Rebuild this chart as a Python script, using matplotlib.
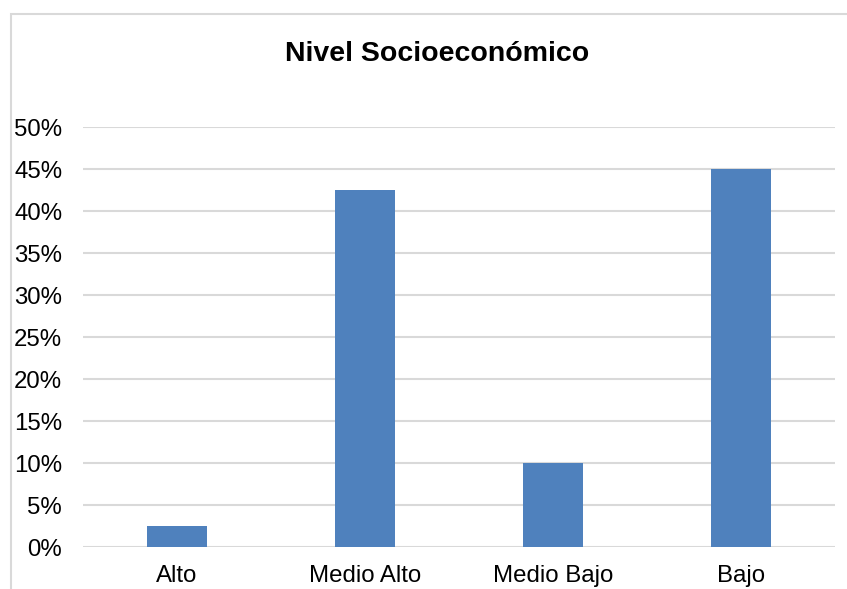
import matplotlib.pyplot as plt
from matplotlib.patches import Rectangle
from matplotlib.ticker import FuncFormatter

categories = ["Alto", "Medio Alto", "Medio Bajo", "Bajo"]
values = [2.5, 42.5, 10.0, 45.0]
yticks = [0, 5, 10, 15, 20, 25, 30, 35, 40, 45, 50]

plt.rcParams['font.family'] = ['Liberation Sans', 'DejaVu Sans']

W, H = 847, 589
fig = plt.figure(figsize=(W / 100, H / 100), dpi=100)

# chart frame (only left and top edges are visible in the crop)
fig.patches.append(Rectangle((11 / W, -0.1), 1.2, 1 - 14 / H + 0.1,
                             transform=fig.transFigure, fill=False,
                             edgecolor="#D9D9D9", linewidth=1.5))

ax = fig.add_axes([83 / W, 1 - 547 / H, (835 - 83) / W, (547 - 127) / H])
x = range(len(categories))
ax.bar(x, values, width=0.314, color="#4F81BD", zorder=3)

ax.set_xlim(-0.5, len(categories) - 0.5)
ax.set_ylim(0, 50)
ax.set_yticks(yticks)
ax.yaxis.set_major_formatter(FuncFormatter(lambda v, p: f"{v:.0f}%"))
ax.set_xticks(list(x))
ax.set_xticklabels(categories)
ax.tick_params(axis="both", length=0, labelsize=17.3, colors="black")
ax.tick_params(axis="y", pad=15)
ax.tick_params(axis="x", pad=13)
ax.grid(axis="y", color="#D9D9D9", linewidth=1.5, zorder=0)
for s in ax.spines.values():
    s.set_visible(False)

fig.text(437 / W, 1 - 54 / H, "Nivel Socioeconómico", ha="center", va="center",
         fontsize=20.5, fontweight="bold")

fig.savefig("out.png", dpi=100)
